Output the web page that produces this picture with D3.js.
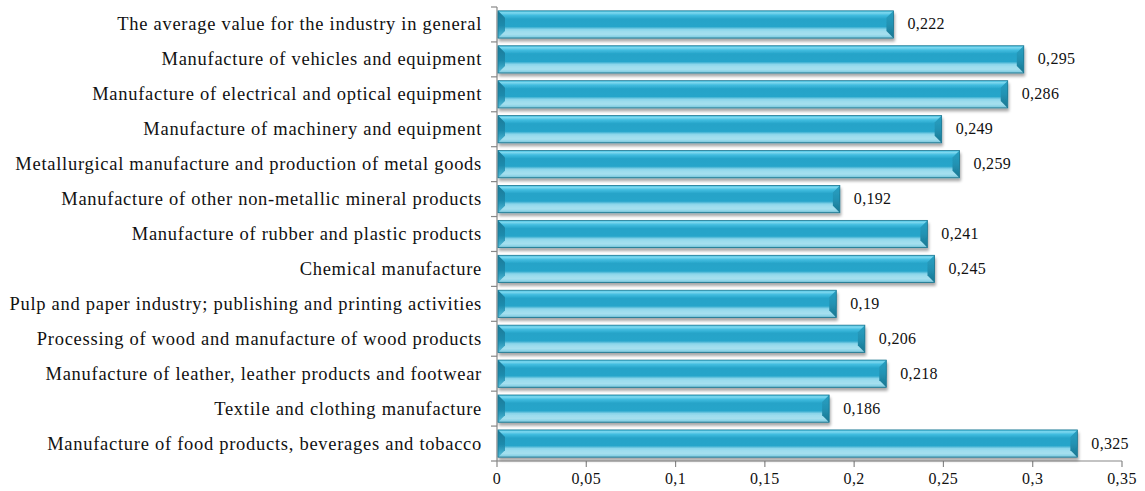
<!DOCTYPE html>
<html><head><meta charset="utf-8">
<script src="https://cdn.jsdelivr.net/npm/d3@7"></script>
<style>body{margin:0;background:#fff}svg{display:block}text{font-family:"Liberation Serif","Times New Roman",serif;fill:#111}</style>
</head><body>
<script>
const categories = [
  "The average value for the industry in general",
  "Manufacture of vehicles and equipment",
  "Manufacture of electrical and optical equipment",
  "Manufacture of machinery and equipment",
  "Metallurgical manufacture and production of metal goods",
  "Manufacture of other non-metallic mineral products",
  "Manufacture of rubber and plastic products",
  "Chemical manufacture",
  "Pulp and paper industry; publishing and printing activities",
  "Processing of wood and manufacture of wood products",
  "Manufacture of leather, leather products and footwear",
  "Textile and clothing manufacture",
  "Manufacture of food products, beverages and tobacco"
];
const values = [0.222,0.295,0.286,0.249,0.259,0.192,0.241,0.245,0.19,0.206,0.218,0.186,0.325];
const tickValues = [0,0.05,0.1,0.15,0.2,0.25,0.3,0.35];
const tickLabels = ["0","0,05","0,1","0,15","0,2","0,25","0,3","0,35"];

const W=1145,H=491;
const svg=d3.select("body").append("svg").attr("width",W).attr("height",H);
const x=d3.scaleLinear().domain([0,0.35]).range([497,1122]);
const y=d3.scaleBand().domain(categories).range([7,461]).paddingInner(0.22).paddingOuter(0.11);
const yb=d3.scaleBand().domain(categories).range([7,461]);

const defs=svg.append("defs");
const g1=defs.append("linearGradient").attr("id","barg").attr("x1",0).attr("x2",0).attr("y1",0).attr("y2",1);
[[0,"#40c0e2"],[0.07,"#7fd8ef"],[0.16,"#42bde0"],[0.3,"#25a3c8"],[0.58,"#27a5ca"],[0.68,"#8ad5ea"],[0.86,"#b0e5f2"],[0.94,"#70c5dc"],[1,"#1a7590"]]
  .forEach(s=>g1.append("stop").attr("offset",s[0]).attr("stop-color",s[1]));
const gl=defs.append("linearGradient").attr("id","leftg").attr("x1",0).attr("x2",0).attr("y1",0).attr("y2",1);
[[0,"#1a7a98"],[0.55,"#1d8bad"],[1,"#56bedb"]].forEach(s=>gl.append("stop").attr("offset",s[0]).attr("stop-color",s[1]));
const gr=defs.append("linearGradient").attr("id","rightg").attr("x1",0).attr("x2",0).attr("y1",0).attr("y2",1);
[[0,"#2aa0c2"],[0.5,"#2292b3"],[1,"#1b7690"]].forEach(s=>gr.append("stop").attr("offset",s[0]).attr("stop-color",s[1]));
const fl=defs.append("filter").attr("id","sh").attr("x","-5%").attr("y","-20%").attr("width","110%").attr("height","160%");
fl.append("feGaussianBlur").attr("in","SourceAlpha").attr("stdDeviation",1.5);
fl.append("feOffset").attr("dx",1).attr("dy",3).attr("result","b");
fl.append("feComponentTransfer").append("feFuncA").attr("type","linear").attr("slope",0.35);
const fm=fl.append("feMerge");fm.append("feMergeNode");fm.append("feMergeNode").attr("in","SourceGraphic");

// axes
svg.append("line").attr("x1",x(0)).attr("x2",x(0)).attr("y1",7).attr("y2",461).attr("stroke","#888").attr("stroke-width",1.2);
svg.append("line").attr("x1",x(0)).attr("x2",x(0.35)).attr("y1",461).attr("y2",461).attr("stroke","#888").attr("stroke-width",1.2);
svg.selectAll(".ct").data(categories.concat(["__end"])).enter().append("line")
  .attr("x1",x(0)-6).attr("x2",x(0))
  .attr("y1",(d,i)=>i<categories.length?yb(d):461).attr("y2",(d,i)=>i<categories.length?yb(d):461)
  .attr("stroke","#888").attr("stroke-width",1.2);
svg.selectAll(".xt").data(tickValues).enter().append("line")
  .attr("x1",d=>x(d)).attr("x2",d=>x(d)).attr("y1",461).attr("y2",467).attr("stroke","#888").attr("stroke-width",1.2);
svg.selectAll(".xl").data(tickValues).enter().append("text")
  .attr("x",d=>x(d)).attr("y",484).attr("text-anchor","middle").style("font-size","16px").style("letter-spacing","0.4px")
  .text((d,i)=>tickLabels[i]);

// bars
const bh=y.bandwidth();
const bg=svg.selectAll(".bar").data(categories).enter().append("g").attr("filter","url(#sh)");
bg.append("rect").attr("x",x(0)+1).attr("y",d=>y(d)).attr("width",(d,i)=>x(values[i])-x(0)-1).attr("height",bh).attr("fill","url(#barg)");
const bev=7;
bg.append("path").attr("fill","#9fdcec").attr("opacity",0.6).attr("d",(d,i)=>{const x0=x(0)+1,x1=x(values[i]),b=y(d)+bh;return `M${x0},${b}L${x0+bev},${b-bev}L${x1-bev},${b-bev}L${x1},${b}Z`;});
bg.append("path").attr("fill","url(#leftg)").attr("d",d=>{const x0=x(0)+1,t=y(d),b=t+bh;return `M${x0},${t}L${x0+bev},${t+bev}L${x0+bev},${b-bev}L${x0},${b}Z`;});
bg.append("path").attr("fill","url(#rightg)").attr("d",(d,i)=>{const x1=x(values[i]),t=y(d),b=t+bh;return `M${x1},${t}L${x1-bev},${t+bev}L${x1-bev},${b-bev}L${x1},${b}Z`;});
bg.append("rect").attr("x",x(0)+1).attr("y",d=>y(d)).attr("width",(d,i)=>x(values[i])-x(0)-1).attr("height",bh).attr("fill","none").attr("stroke","#1b7690").attr("stroke-width",0.8);

// value labels
svg.selectAll(".vl").data(categories).enter().append("text")
  .attr("x",(d,i)=>x(values[i])+14).attr("y",d=>y(d)+bh/2+5).style("font-size","16px").style("letter-spacing","0.3px")
  .text((d,i)=>String(values[i]).replace(".",","));
// category labels
svg.selectAll(".cl").data(categories).enter().append("text")
  .attr("x",482).attr("y",d=>yb(d)+yb.bandwidth()/2+6).attr("text-anchor","end").style("font-size","18.5px").style("letter-spacing","0.72px")
  .text(d=>d);
</script>
</body></html>
